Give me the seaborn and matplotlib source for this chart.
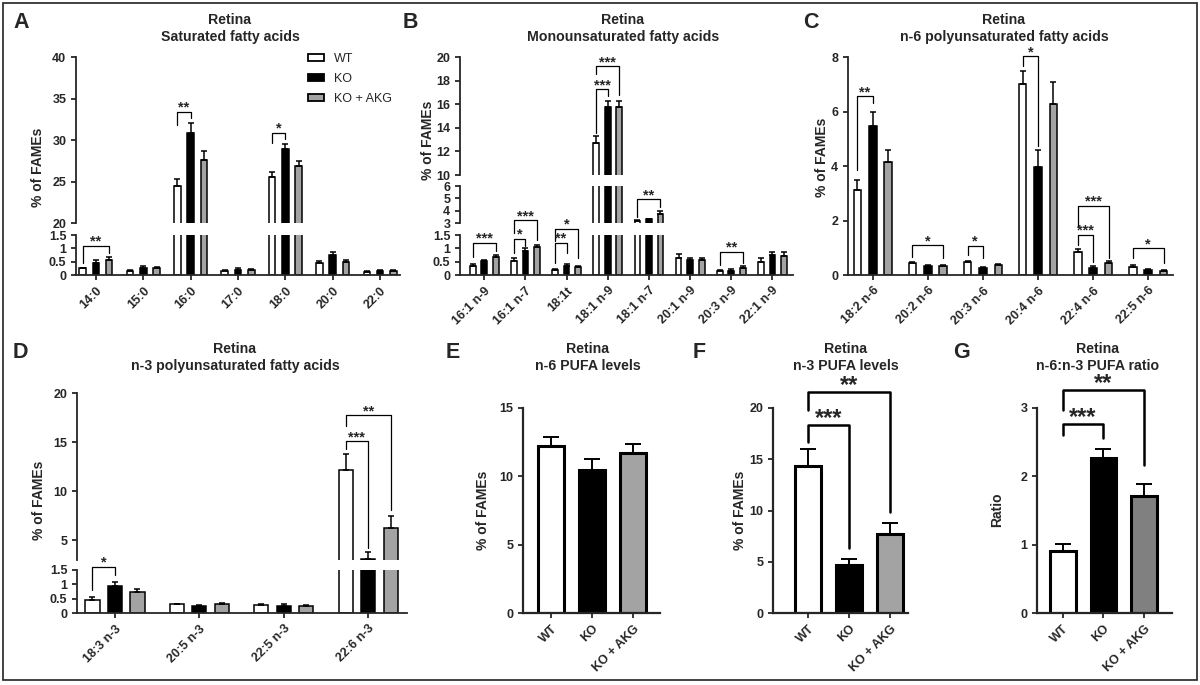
import pandas as pd
import matplotlib.pyplot as plt
import seaborn as sns

# Grupos
groups = ["WT", "KO", "KO + AKG"]

# A - saturados
acids_a = ["14:0", "15:0", "16:0", "17:0", "18:0", "20:0", "22:0"]
wt_a = [0.25, 0.15, 24.5, 0.15, 25.5, 0.44, 0.12]
ko_a = [0.46, 0.25, 30.8, 0.20, 28.9, 0.75, 0.15]
akg_a = [0.56, 0.25, 27.6, 0.18, 26.9, 0.47, 0.15]
sem_wt_a = [0.03, 0.03, 0.8, 0.03, 0.7, 0.10, 0.03]
sem_ko_a = [0.12, 0.07, 1.2, 0.06, 0.6, 0.10, 0.03]
sem_akg_a = [0.12, 0.05, 1.1, 0.04, 0.6, 0.11, 0.03]

# B - monoinsaturados
acids_b = ["16:1 n-9", "16:1 n-7", "18:1t", "18:1 n-9", "18:1 n-7", "20:1 n-9", "20:3 n-9", "22:1 n-9"]
wt_b = [0.35, 0.52, 0.17, 12.7, 3.15, 0.63, 0.15, 0.50]
ko_b = [0.52, 0.90, 0.35, 15.8, 3.30, 0.58, 0.16, 0.74]
akg_b = [0.66, 1.04, 0.31, 15.75, 3.75, 0.58, 0.27, 0.72]
sem_wt_b = [0.06, 0.13, 0.06, 0.6, 0.06, 0.14, 0.04, 0.15]
sem_ko_b = [0.05, 0.10, 0.06, 0.5, 0.05, 0.06, 0.05, 0.12]
sem_akg_b = [0.08, 0.08, 0.04, 0.55, 0.22, 0.05, 0.06, 0.13]

# C - n-6
acids_c = ["18:2 n-6", "20:2 n-6", "20:3 n-6", "20:4 n-6", "22:4 n-6", "22:5 n-6"]
wt_c = [3.12, 0.43, 0.47, 7.02, 0.86, 0.30]
ko_c = [5.45, 0.34, 0.27, 3.96, 0.27, 0.20]
akg_c = [4.14, 0.33, 0.37, 6.26, 0.45, 0.16]
sem_wt_c = [0.37, 0.06, 0.06, 0.48, 0.08, 0.07]
sem_ko_c = [0.55, 0.04, 0.04, 0.64, 0.07, 0.03]
sem_akg_c = [0.43, 0.04, 0.04, 0.81, 0.08, 0.02]

# D - n-3
acids_d = ["18:3 n-3", "20:5 n-3", "22:5 n-3", "22:6 n-3"]
wt_d = [0.47, 0.30, 0.28, 12.2]
ko_d = [0.94, 0.26, 0.23, 3.1]
akg_d = [0.73, 0.30, 0.25, 6.3]
sem_wt_d = [0.09, 0.03, 0.05, 1.6]
sem_ko_d = [0.13, 0.02, 0.10, 0.7]
sem_akg_d = [0.10, 0.05, 0.03, 1.2]

# E, F, G - totales
n6_total = [12.22, 10.5, 11.68]
n6_sem = [0.64, 0.77, 0.67]
n3_total = [14.3, 4.67, 7.7]
n3_sem = [1.7, 0.55, 1.1]
ratio = [0.91, 2.27, 1.71]
ratio_sem = [0.10, 0.13, 0.18]

# Significancia: (segmento, grupo, hue1, hue2, y, pata1, pata2, texto)
sig_a = [(1, 0, 0, 2, 1.09, 0.44, 0.81, "**"), (0, 2, 0, 1, 33.4, 31.8, 32.7, "**"),
         (0, 4, 0, 1, 30.9, 29.6, 30.1, "*")]
sig_b = [(2, 0, 0, 2, 1.21, 0.69, 0.91, "***"), (2, 1, 0, 1, 1.36, 0.81, 1.09, "*"),
         (2, 1, 0, 2, 2.06, 1.56, 1.31, "***"), (2, 2, 0, 1, 1.21, 0.44, 0.84, "**"),
         (2, 2, 0, 2, 1.74, 1.29, 0.65, "*"), (0, 3, 0, 1, 17.28, 13.6, 16.66, "***"),
         (0, 3, 0, 2, 19.2, 18.6, 16.8, "***"), (1, 4, 0, 2, 4.91, 3.49, 4.31, "**"),
         (2, 6, 0, 2, 0.875, 0.375, 0.44, "**")]
sig_c = [(0, 0, 0, 1, 6.56, 3.86, 6.31, "**"), (0, 1, 0, 2, 1.10, 0.67, 0.61, "*"),
         (0, 2, 0, 1, 1.07, 0.74, 0.61, "*"), (0, 3, 0, 1, 8.03, 7.66, 4.72, "*"),
         (0, 4, 0, 1, 1.47, 1.10, 0.49, "***"), (0, 4, 0, 2, 2.54, 1.78, 0.61, "***"),
         (0, 5, 0, 2, 0.98, 0.61, 0.43, "*")]
sig_d = [(1, 0, 0, 1, 1.62, 0.80, 1.32, "*"), (0, 3, 0, 1, 15.1, 14.25, 4.2, "***"),
         (0, 3, 0, 2, 17.75, 16.6, 8.1, "**")]
sig_f = [(0, 1, 18.3, 16.7, 6.3, "***"), (0, 2, 21.6, 19.8, 9.9, "**")]
sig_g = [(0, 1, 2.76, 2.61, 2.56, "***"), (0, 2, 3.26, 2.97, 2.16, "**")]

sns.set_style("ticks")
plt.rcParams["font.family"] = ["Liberation Sans", "DejaVu Sans"]
plt.rcParams["font.weight"] = "bold"
plt.rcParams["axes.linewidth"] = 1.3
plt.rcParams["xtick.major.width"] = 1.3
plt.rcParams["ytick.major.width"] = 1.3
plt.rcParams["xtick.major.size"] = 3.5
plt.rcParams["ytick.major.size"] = 3.5
plt.rcParams["xtick.labelsize"] = 9
plt.rcParams["ytick.labelsize"] = 9

W, H = 1200, 685
fig = plt.figure(figsize=(12, 6.85), dpi=100)
GRAY = "#a3a3a3"
pal = {"WT": "white", "KO": "black", "KO + AKG": GRAY}


def frame(x0, x1, ytop, ybot):
    return fig.add_axes([x0 / W, 1 - ybot / H, (x1 - x0) / W, (ybot - ytop) / H])


def bracket(ax, x1, x2, y, l1, l2, label, lw=0.9, fs=10.5):
    ax.plot([x1, x1, x2, x2], [l1, y, y, l2], color="black", lw=lw, clip_on=False)
    ax.annotate(label, ((x1 + x2) / 2, y), ha="center", va="baseline", fontsize=fs,
                annotation_clip=False)


def style_xticks(ax):
    for lbl in ax.get_xticklabels():
        lbl.set_rotation(45)
        lbl.set_ha("right")
        lbl.set_rotation_mode("anchor")


def grouped_panel(x0, x1, segs, acids, vals, sems, xlim, width=0.84, gap=0.5, sigs=()):
    df = pd.DataFrame({
        "acid": acids * 3,
        "group": [g for g in groups for _ in acids],
        "value": vals[0] + vals[1] + vals[2],
    })
    axes = []
    centers = None
    for k, (ytop, ybot, lo, hi, ticks) in enumerate(segs):
        ax = frame(x0, x1, ytop, ybot)
        sns.barplot(data=df, x="acid", y="value", hue="group", hue_order=groups,
                    palette=pal, width=width, gap=gap, edgecolor="black", linewidth=1.1,
                    errorbar=None, legend=False, ax=ax)
        bars = list(ax.containers)
        if centers is None:
            centers = [[p.get_x() + p.get_width() / 2 for p in c] for c in bars]
        for cont, sem in zip(bars, sems):
            for p, s in zip(cont, sem):
                ax.errorbar(p.get_x() + p.get_width() / 2, p.get_height(), yerr=[[0], [s]],
                            fmt="none", ecolor="black", elinewidth=1.1, capsize=2.5, capthick=1.1)
        ax.set_xlim(*xlim)
        ax.set_ylim(lo, hi)
        ax.set_yticks(ticks)
        ax.set_yticklabels([f"{t:g}" for t in ticks])
        ax.set_xlabel("")
        ax.set_ylabel("")
        sns.despine(ax=ax)
        if k < len(segs) - 1:
            ax.spines["bottom"].set_visible(False)
            ax.tick_params(axis="x", bottom=False, labelbottom=False)
        else:
            style_xticks(ax)
        axes.append(ax)
    for seg, i, j1, j2, y, l1, l2, lab in sigs:
        bracket(axes[seg], centers[j1][i], centers[j2][i], y, l1, l2, lab)
    return axes


def single_panel(x0, x1, vals, sems, colors, ymax, ticks, xlim, sigs=()):
    ax = frame(x0, x1, 408, 613)
    sns.barplot(x=groups, y=vals, hue=groups, palette=dict(zip(groups, colors)), width=0.63,
                edgecolor="black", linewidth=2.2, errorbar=None, legend=False, ax=ax)
    bars = list(ax.containers)
    centers = []
    for cont, s in zip(bars, sems):
        p = cont[0]
        cx = p.get_x() + p.get_width() / 2
        centers.append(cx)
        ax.errorbar(cx, p.get_height(), yerr=[[0], [s]], fmt="none", ecolor="black",
                    elinewidth=1.4, capsize=6, capthick=1.4)
    ax.set_xlim(*xlim)
    ax.set_ylim(0, ymax)
    ax.set_yticks(ticks)
    ax.set_xlabel("")
    ax.set_ylabel("")
    ax.spines["left"].set_linewidth(1.6)
    ax.spines["bottom"].set_linewidth(1.6)
    sns.despine(ax=ax)
    style_xticks(ax)
    for j1, j2, y, l1, l2, lab in sigs:
        bracket(ax, centers[j1], centers[j2], y, l1, l2, lab, lw=1.8, fs=17)
    return ax


low = [0, 0.5, 1, 1.5]

grouped_panel(76, 400, [(57, 223, 20, 40, [20, 25, 30, 35, 40]), (235, 275, 0, 1.5, low)],
              acids_a, [wt_a, ko_a, akg_a], [sem_wt_a, sem_ko_a, sem_akg_a],
              (-0.42, 6.42), sigs=sig_a)
grouped_panel(460, 793, [(57, 175, 10, 20, [10, 12, 14, 16, 18, 20]), (186, 223, 3, 6, [3, 4, 5, 6]),
                         (235, 275, 0, 1.5, low)],
              acids_b, [wt_b, ko_b, akg_b], [sem_wt_b, sem_ko_b, sem_akg_b],
              (-0.59, 7.5), sigs=sig_b)
grouped_panel(848, 1173, [(57, 275, 0, 8, [0, 2, 4, 6, 8])],
              acids_c, [wt_c, ko_c, akg_c], [sem_wt_c, sem_ko_c, sem_akg_c],
              (-0.45, 5.45), sigs=sig_c)
grouped_panel(77, 407, [(393, 560, 3, 20, [5, 10, 15, 20]), (570, 613, 0, 1.5, low)],
              acids_d, [wt_d, ko_d, akg_d], [sem_wt_d, sem_ko_d, sem_akg_d],
              (-0.45, 3.46), width=0.8, gap=0.37, sigs=sig_d)

single_panel(523, 660, n6_total, n6_sem, ["white", "black", GRAY], 15, [0, 5, 10, 15], (-0.68, 2.66))
single_panel(773, 908, n3_total, n3_sem, ["white", "black", GRAY], 20, [0, 5, 10, 15, 20],
             (-0.85, 2.44), sigs=sig_f)
single_panel(1037, 1172, ratio, ratio_sem, ["white", "black", "#808080"], 3, [0, 1, 2, 3],
             (-0.63, 2.68), sigs=sig_g)

# Leyenda
handles = [plt.Rectangle((0, 0), 1, 1, facecolor=pal[g], edgecolor="black", lw=1.3) for g in groups]
fig.legend(handles, groups, loc="upper left", bbox_to_anchor=(308 / W, 1 - 53 / H),
           frameon=False, prop={"weight": "normal", "size": 9}, handlelength=1.25,
           handleheight=0.5, handletextpad=0.8, labelspacing=0.65, borderpad=0, borderaxespad=0)

# Titulos, letras y etiquetas
titles = [(230, 28.5, "Retina\nSaturated fatty acids"), (623, 28.5, "Retina\nMonounsaturated fatty acids"),
          (1004, 28.5, "Retina\nn-6 polyunsaturated fatty acids"),
          (235, 357.5, "Retina\nn-3 polyunsaturated fatty acids"), (588, 357.5, "Retina\nn-6 PUFA levels"),
          (846, 357.5, "Retina\nn-3 PUFA levels"), (1098, 357.5, "Retina\nn-6:n-3 PUFA ratio")]
for x, y, t in titles:
    fig.text(x / W, 1 - y / H, t, ha="center", va="center", fontsize=10.2, linespacing=1.25)

letters = [(13, 22, "A"), (403, 22, "B"), (803, 22, "C"), (13, 352, "D"), (446, 352, "E"),
           (693, 352, "F"), (953, 352, "G")]
for x, y, t in letters:
    fig.text(x / W, 1 - y / H, t, ha="left", va="center", fontsize=15.5)

ylabels = [(38, 167, "% of FAMEs"), (428, 140, "% of FAMEs"), (822, 157, "% of FAMEs"),
           (39, 500, "% of FAMEs"), (483, 510, "% of FAMEs"), (740, 510, "% of FAMEs"),
           (997, 510, "Ratio")]
for x, y, t in ylabels:
    fig.text(x / W, 1 - y / H, t, ha="center", va="center", rotation=90, fontsize=10)

fig.patches.append(plt.Rectangle((3 / W, 1 - 680 / H), 1194 / W, 677 / H, transform=fig.transFigure,
                                 fill=False, edgecolor="#222222", lw=1.2))

fig.savefig("out.png", dpi=100)
